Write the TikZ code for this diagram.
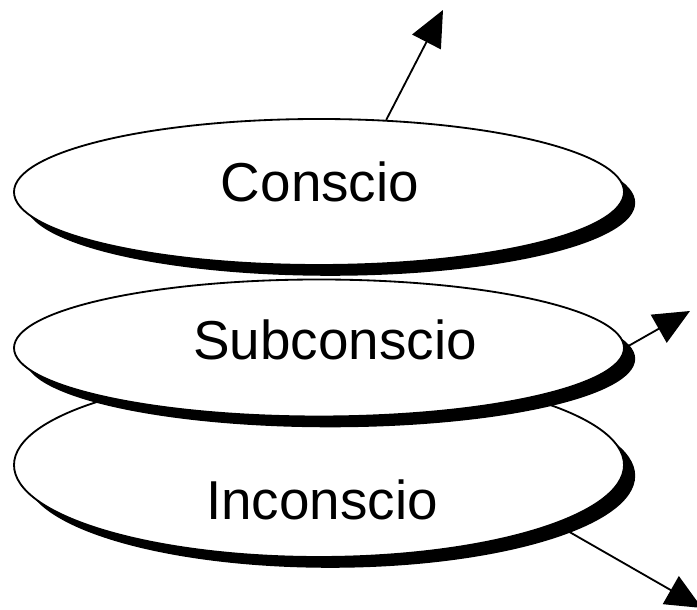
\documentclass[tikz,border=0pt]{standalone}
\usepackage{fontspec}
\setmainfont{Liberation Sans}
\usetikzlibrary{shapes.geometric, arrows.meta, shadows}

\begin{document}
\begin{tikzpicture}[
    layer/.style={
        draw=black,
        fill=white,
        line width=1.3pt,
        ellipse,
        minimum width=15.25cm,
        drop shadow={shadow xshift=0.28cm, shadow yshift=-0.27cm, opacity=1, fill=black}
    },
    layertext/.style={
        font=\fontsize{39}{44}\selectfont
    },
    flow/.style={
        -{Triangle[length=0.9cm, width=0.8cm]},
        line width=1.3pt
    }
]

\useasboundingbox (0, 0) rectangle (17.425, 15.25);

% ==================== LAYERS ====================
\node[layer, minimum height=4.6cm] (inconscio) at (7.975, 3.625) {};
\node[layer, minimum height=3.425cm] (subconscio) at (7.975, 6.55) {};
\node[layer, minimum height=3.65cm] (conscio) at (7.975, 10.45) {};

% ==================== LABELS ====================
\node[layertext] (conscio text) at (8.0, 10.7) {Conscio};
\node[layertext] (subconscio text) at (8.375, 6.75) {Subconscio};
\node[layertext] (inconscio text) at (8.05, 2.75) {Inconscio};

% ==================== ARROWS ====================
\coordinate (up) at (11.075, 15.0);
\coordinate (side) at (17.25, 7.475);
\coordinate (down) at (17.55, 0.05);

\draw[flow] (conscio.47) -- (up);
\draw[flow] (subconscio.east) -- (side);
\draw[flow] (inconscio.-14) -- (down);

\end{tikzpicture}
\end{document}
